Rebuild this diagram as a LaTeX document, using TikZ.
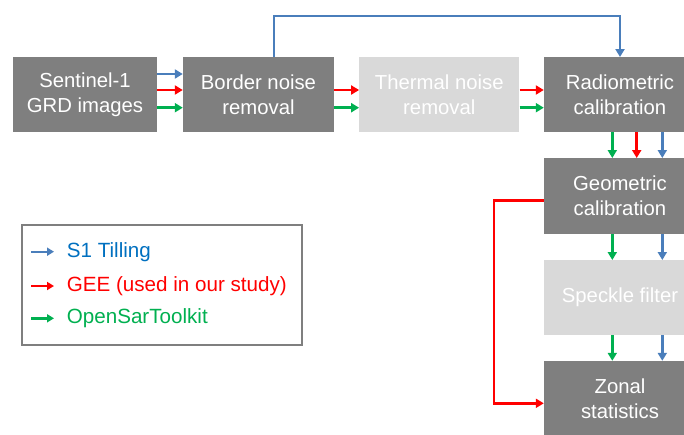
\documentclass[tikz,border=0pt]{standalone}
\usepackage{fontspec}
\setmainfont{Liberation Sans}
\usetikzlibrary{arrows.meta}
\definecolor{boxdark}{HTML}{7F7F7F}
\definecolor{boxlight}{HTML}{D9D9D9}
\definecolor{ablue}{HTML}{4A7EBB}
\definecolor{ared}{HTML}{FF0000}
\definecolor{agreen}{HTML}{00B050}
\definecolor{tblue}{HTML}{0070C0}
\begin{document}
\begin{tikzpicture}[x=1pt,y=-1pt,
  stepbox/.style={rectangle,fill=boxdark,text=white,align=center,inner sep=0pt,
    minimum height=75pt,font=\fontsize{20.3}{25}\selectfont},
  lightbox/.style={stepbox,fill=boxlight},
  flow/.style={line width=2.6pt,-{Triangle[length=8pt,width=9pt]}},
  fb/.style={flow,draw=ablue},
  fr/.style={flow,draw=ared},
  fg/.style={flow,draw=agreen},
  legarrow/.style={line width=2.4pt,-{Triangle[length=7pt,width=8pt]}},
  legtext/.style={anchor=west,inner sep=0pt,font=\fontsize{20.6}{24}\selectfont}]
\clip (0,0) rectangle (684,434);
\fill[white] (0,0) rectangle (684,434);
\node[stepbox,minimum width=144pt] (sent) at (85,94.7) {Sentinel-1\\GRD images};
\node[stepbox,minimum width=151pt] (border) at (258.5,94.7) {Border noise\\removal};
\node[lightbox,minimum width=160pt] (thermal) at (439.3,94.7) {Thermal noise\\removal};
\node[stepbox,minimum width=152pt] (rad) at (620,94.7) {Radiometric\\calibration};
\node[stepbox,minimum width=152pt,minimum height=76pt] (geo) at (620,196.2) {Geometric\\calibration};
\node[lightbox,minimum width=152pt] (speck) at (620,297.7) {Speckle filter};
\node[stepbox,minimum width=152pt] (zonal) at (620,398.5) {Zonal\\statistics};
% sentinel -> border
\draw[fb] (sent.east |- 0,74) -- (border.west |- 0,74);
\draw[fr] (sent.east |- 0,90) -- (border.west |- 0,90);
\draw[fg] (sent.east |- 0,107.7) -- (border.west |- 0,107.7);
% border -> thermal
\draw[fr] (border.east |- 0,90) -- (thermal.west |- 0,90);
\draw[fg] (border.east |- 0,107.7) -- (thermal.west |- 0,107.7);
% thermal -> rad
\draw[fr] (thermal.east |- 0,90) -- (rad.west |- 0,90);
\draw[fg] (thermal.east |- 0,107.7) -- (rad.west |- 0,107.7);
% blue bypass
\draw[fb] (border.north -| 274,0) -- (274,16) -| (rad.north);
% rad -> geo
\draw[fg] (rad.south -| 612.3,0) -- (geo.north -| 612.3,0);
\draw[fr] (rad.south -| 636.7,0) -- (geo.north -| 636.7,0);
\draw[fb] (rad.south -| 662.3,0) -- (geo.north -| 662.3,0);
% geo -> speck
\draw[fg] (geo.south -| 612.3,0) -- (speck.north -| 612.3,0);
\draw[fb] (geo.south -| 662.3,0) -- (speck.north -| 662.3,0);
% speck -> zonal
\draw[fg] (speck.south -| 612.3,0) -- (zonal.north -| 612.3,0);
\draw[fb] (speck.south -| 662.3,0) -- (zonal.north -| 662.3,0);
% red bypass
\draw[fr] (geo.west |- 0,200.3) -- (494,200.3) |- (zonal.west |- 0,403.3);
% legend
\node[draw=boxdark,line width=2.2pt,minimum width=280pt,minimum height=120pt,inner sep=0pt] (legend) at (161.7,285) {};
\coordinate (l1a) at (31,251.7); \coordinate (l1b) at (54,251.7);
\coordinate (l2a) at (31,286); \coordinate (l2b) at (54,286);
\coordinate (l3a) at (31,318.3); \coordinate (l3b) at (54,318.3);
\draw[legarrow,draw=ablue] (l1a) -- (l1b);
\draw[legarrow,draw=ared] (l2a) -- (l2b);
\draw[legarrow,draw=agreen] (l3a) -- (l3b);
\node[legtext,text=tblue] (t1) at (66.7,251.7) {S1 Tilling};
\node[legtext,text=ared] (t2) at (66.7,286) {GEE (used in our study)};
\node[legtext,text=agreen] (t3) at (66.7,318.3) {OpenSarToolkit};
\end{tikzpicture}
\end{document}
